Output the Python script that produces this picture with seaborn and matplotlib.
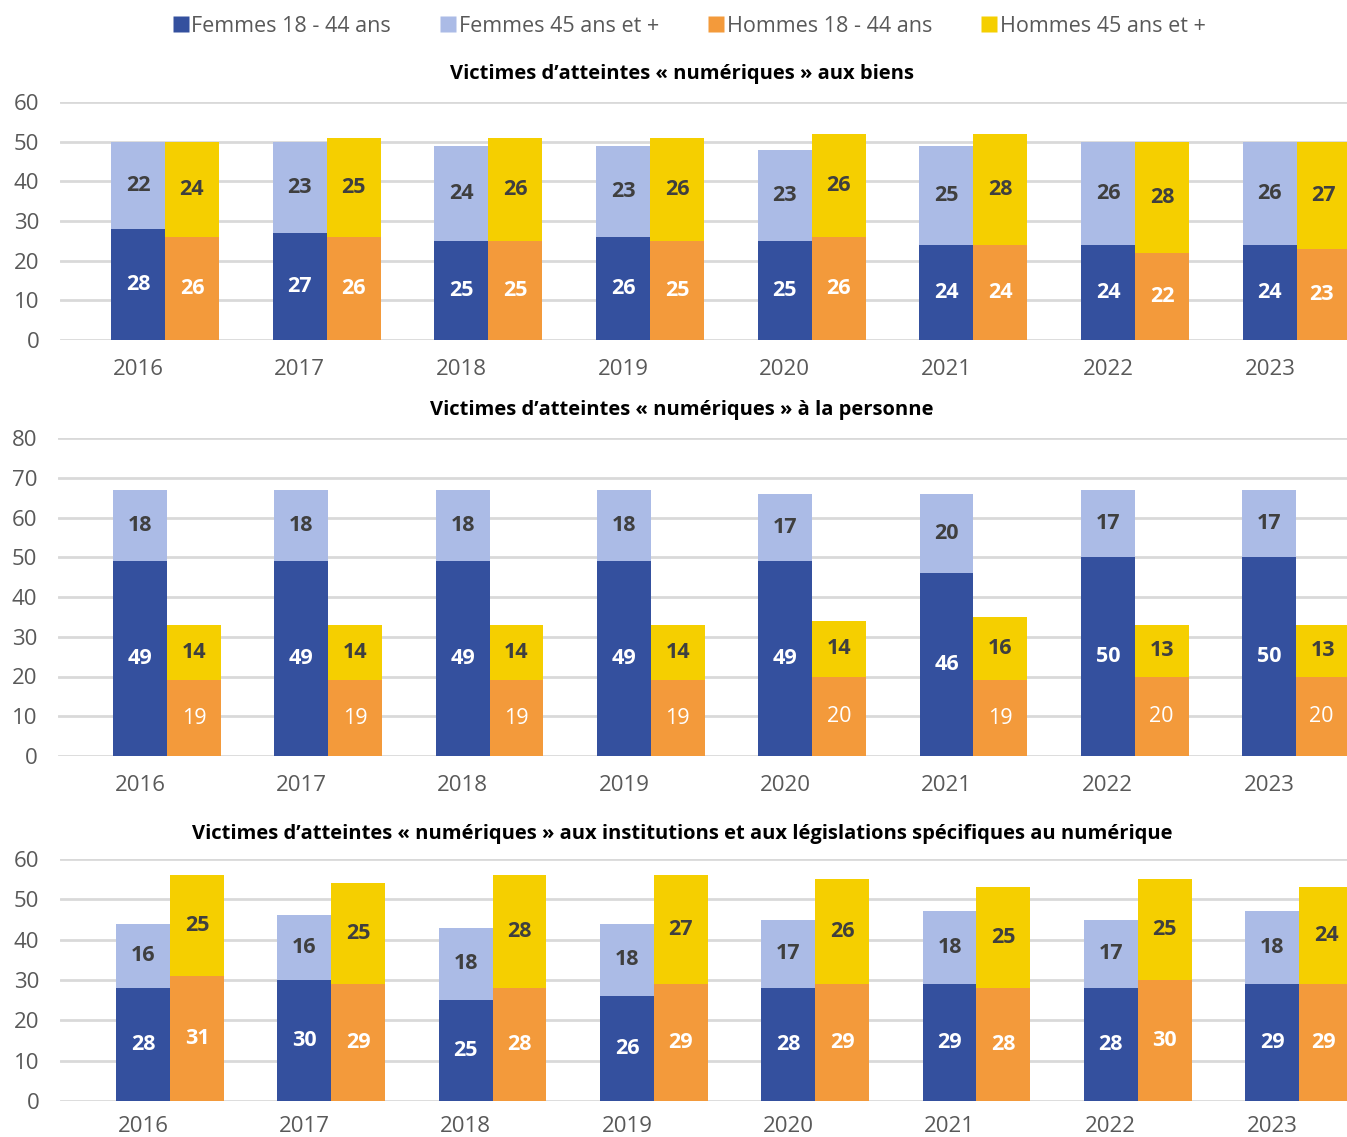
import matplotlib
matplotlib.use("Agg")
import matplotlib.pyplot as plt
from matplotlib.lines import Line2D
import seaborn as sns
import pandas as pd

years = ["2016", "2017", "2018", "2019", "2020", "2021", "2022", "2023"]

titles = [
    "Victimes d\u2019atteintes « numériques » aux biens",
    "Victimes d\u2019atteintes « numériques » à la personne",
    "Victimes d\u2019atteintes « numériques » aux institutions et aux législations spécifiques au numérique",
]

# Aux biens
biens_f_jeunes = [28, 27, 25, 26, 25, 24, 24, 24]
biens_f_ages = [22, 23, 24, 23, 23, 25, 26, 26]
biens_h_jeunes = [26, 26, 25, 25, 26, 24, 22, 23]
biens_h_ages = [24, 25, 26, 26, 26, 28, 28, 27]

# À la personne
pers_f_jeunes = [49, 49, 49, 49, 49, 46, 50, 50]
pers_f_ages = [18, 18, 18, 18, 17, 20, 17, 17]
pers_h_jeunes = [19, 19, 19, 19, 20, 19, 20, 20]
pers_h_ages = [14, 14, 14, 14, 14, 16, 13, 13]

# Aux institutions et législations spécifiques
inst_f_jeunes = [28, 30, 25, 26, 28, 29, 28, 29]
inst_f_ages = [16, 16, 18, 18, 17, 18, 17, 18]
inst_h_jeunes = [31, 29, 28, 29, 29, 28, 30, 29]
inst_h_ages = [25, 25, 28, 27, 26, 25, 25, 24]

legend_labels = ["Femmes 18 - 44 ans", "Femmes 45 ans et +",
                 "Hommes 18 - 44 ans", "Hommes 45 ans et +"]

C_F_JEUNE = "#34509e"
C_F_AGE = "#abbbe6"
C_H_JEUNE = "#f39a3b"
C_H_AGE = "#f5cf00"
GRID = "#d9d9d9"
TXT = "#595959"
LBL_DARK = "#3f3f3f"

sns.set_theme(style="white")
plt.rcParams["font.family"] = ["Open Sans", "DejaVu Sans"]

fig = plt.figure(figsize=(13.47, 11.37), dpi=100)

panels = [
    dict(f1=biens_f_jeunes, f2=biens_f_ages, h1=biens_h_jeunes, h2=biens_h_ages,
         rect=[60 / 1347, 1 - 340 / 1137, 1 - 60 / 1347, 238 / 1137],
         ymax=60, xlim=(-0.649, 7.310), title_y=1 - 74 / 1137, hbold=True, xpad=14),
    dict(f1=pers_f_jeunes, f2=pers_f_ages, h1=pers_h_jeunes, h2=pers_h_ages,
         rect=[58 / 1347, 1 - 756 / 1137, 1 - 58 / 1347, 318 / 1137],
         ymax=80, xlim=(-0.676, 7.316), title_y=1 - 410 / 1137, hbold=False, xpad=14),
    dict(f1=inst_f_jeunes, f2=inst_f_ages, h1=inst_h_jeunes, h2=inst_h_ages,
         rect=[60 / 1347, 1 - 1101 / 1137, 1 - 60 / 1347, 242 / 1137],
         ymax=60, xlim=(-0.682, 7.297), title_y=1 - 834 / 1137, hbold=True, xpad=11),
]

group_width = 0.668

for idx, p in enumerate(panels):
    ax = fig.add_axes(p["rect"])
    totals = pd.DataFrame({
        "Année": years * 2,
        "Sexe": ["Femmes"] * 8 + ["Hommes"] * 8,
        "valeur": [a + b for a, b in zip(p["f1"], p["f2"])]
        + [a + b for a, b in zip(p["h1"], p["h2"])],
    })
    bases = pd.DataFrame({
        "Année": years * 2,
        "Sexe": ["Femmes"] * 8 + ["Hommes"] * 8,
        "valeur": list(p["f1"]) + list(p["h1"]),
    })
    # full stack height in the upper-segment colour, then the lower segment on top of it
    sns.barplot(data=totals, x="Année", y="valeur", hue="Sexe", order=years,
                hue_order=["Femmes", "Hommes"], palette=[C_F_AGE, C_H_AGE],
                width=group_width, errorbar=None, legend=False, ax=ax,
                saturation=1, edgecolor="none", linewidth=0, zorder=2)
    sns.barplot(data=bases, x="Année", y="valeur", hue="Sexe", order=years,
                hue_order=["Femmes", "Hommes"], palette=[C_F_JEUNE, C_H_JEUNE],
                width=group_width, errorbar=None, legend=False, ax=ax,
                saturation=1, edgecolor="none", linewidth=0, zorder=3)

    cont = ax.containers
    base_f, base_h = cont[2], cont[3]

    # lower segment labels
    ax.bar_label(base_f, labels=[str(v) for v in p["f1"]], label_type="center",
                 color="white", fontsize=15.5, fontweight="bold", zorder=5)
    ax.bar_label(base_h, labels=[str(v) for v in p["h1"]], label_type="center",
                 color="white", fontsize=15.5,
                 fontweight="bold" if p["hbold"] else "normal", zorder=5)
    # upper segment labels
    for patches, lows, highs in ((base_f, p["f1"], p["f2"]), (base_h, p["h1"], p["h2"])):
        for patch, lo, hi in zip(patches, lows, highs):
            xc = patch.get_x() + patch.get_width() / 2
            ax.text(xc, lo + hi / 2, str(hi), ha="center", va="center",
                    color=LBL_DARK, fontsize=15.5, fontweight="bold", zorder=5)

    ax.set_ylim(0, p["ymax"])
    ax.set_xlim(*p["xlim"])
    ax.set_yticks(range(0, p["ymax"] + 1, 10))
    ax.set_xticks([i - group_width / 4 for i in range(len(years))])
    ax.set_xticklabels(years)
    ax.yaxis.grid(True, color=GRID, linewidth=2, zorder=0)
    ax.set_axisbelow(True)
    for s in ax.spines.values():
        s.set_visible(False)
    ax.tick_params(axis="both", length=0, labelsize=16, colors=TXT)
    ax.tick_params(axis="x", pad=p["xpad"])
    ax.tick_params(axis="y", pad=15)
    ax.set_xlabel("")
    ax.set_ylabel("")
    fig.text(682 / 1347, p["title_y"], titles[idx], ha="center", va="center",
             fontsize=14.5, fontweight="bold", color="black")

handles = [Line2D([], [], marker="s", linestyle="none", markersize=12,
                  markerfacecolor=c, markeredgecolor="none")
           for c in (C_F_JEUNE, C_F_AGE, C_H_JEUNE, C_H_AGE)]
fig.legend(handles, legend_labels, loc="center", bbox_to_anchor=(688 / 1347, 1 - 26 / 1137),
           ncol=4, frameon=False, fontsize=15.5, labelcolor=TXT, handletextpad=0.0,
           columnspacing=2.15, handlelength=1.0)

fig.savefig("out.png", dpi=100)
